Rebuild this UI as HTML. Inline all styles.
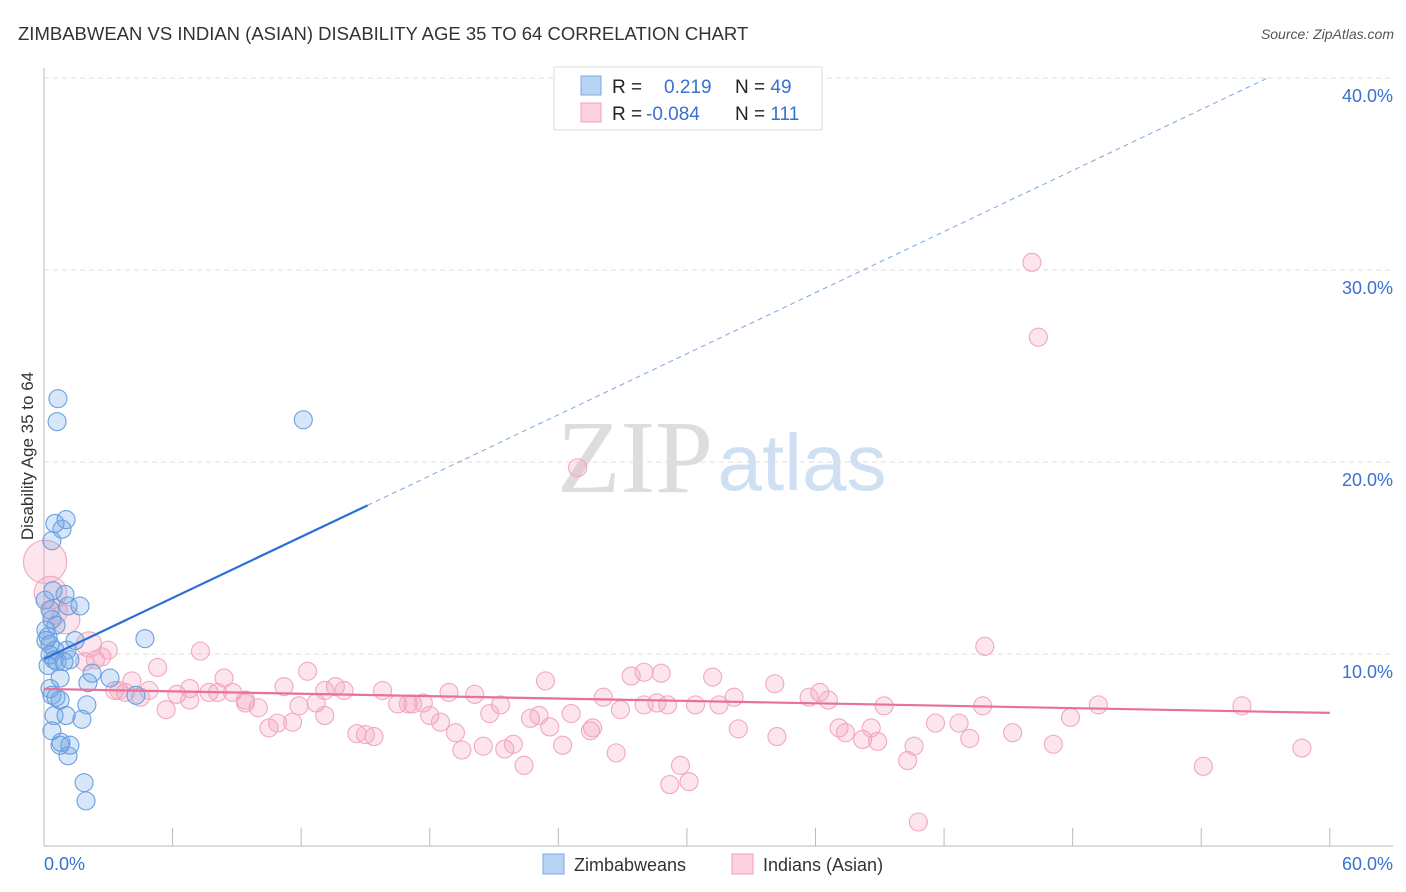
<!DOCTYPE html>
<html><head><meta charset="utf-8"><style>
body{margin:0;background:#fff;font-family:"Liberation Sans",sans-serif}
svg{display:block}
</style></head><body>
<svg id="c" width="1406" height="892">
<text x="18" y="40" font-size="18.5" fill="#333">ZIMBABWEAN VS INDIAN (ASIAN) DISABILITY AGE 35 TO 64 CORRELATION CHART</text>
<text x="1394" y="39" font-size="14" fill="#555" font-style="italic" text-anchor="end">Source: ZipAtlas.com</text>
<text x="635" y="492" font-size="104" fill="#ddd" font-family="Liberation Serif,serif" text-anchor="middle">ZIP</text>
<text x="802" y="490" font-size="80" fill="#cfe0f3" text-anchor="middle">atlas</text>
<text transform="translate(33,456) rotate(-90)" font-size="17" fill="#333" text-anchor="middle">Disability Age 35 to 64</text>
<g id="grid"></g><g id="pts"></g><g id="lines"></g>
<g>
<rect x="554" y="67" width="268" height="63" fill="#fff" stroke="#ddd"/>
<rect x="581" y="76" width="20" height="19" fill="#b8d4f5" stroke="#7aaae6"/>
<rect x="581" y="103" width="20" height="19" fill="#fcd0dc" stroke="#f0a0b8"/>
<text x="612" y="93" font-size="19" fill="#222">R = <tspan fill="#3a70d0" x="664">0.219</tspan><tspan fill="#222" x="735">N = </tspan><tspan fill="#3a70d0">49</tspan></text>
<text x="612" y="120" font-size="19" fill="#222">R = <tspan fill="#3a70d0" x="646">-0.084</tspan><tspan fill="#222" x="735">N = </tspan><tspan fill="#3a70d0">111</tspan></text>
</g>
<g>
<rect x="543" y="854" width="21" height="20" fill="#b8d4f5" stroke="#7aaae6"/>
<text x="574" y="871" font-size="18" fill="#333">Zimbabweans</text>
<rect x="732" y="854" width="21" height="20" fill="#fcd0dc" stroke="#f0a0b8"/>
<text x="763" y="871" font-size="18" fill="#333">Indians (Asian)</text>
</g>
</svg>
<script>
const blueX=[.65,.61,12.1,1.03,.51,.84,.37,.42,.98,1.68,1.12,.09,.19,.09,.28,.51,1.07,.28,.47,.61,.93,4.71,3.08,2.05,.75,.28,.37,.56,2.0,.47,1.03,1.77,.37,.79,1.21,.75,1.12,1.87,1.96,4.29,2.24,.19,.75,1.21,.28,.56,.37,1.45,.05];
const blueY=[23.3,22.1,22.2,17.0,16.8,16.5,15.9,13.3,13.1,12.5,12.5,11.25,10.9,10.7,10.5,10.2,10.2,9.95,9.7,9.6,9.6,10.8,8.75,8.5,8.75,8.2,7.85,7.75,7.35,6.8,6.8,6.6,6.0,5.4,5.25,5.25,4.7,3.3,2.35,7.85,9.0,9.4,7.6,9.7,12.3,11.5,11.8,10.7,12.8];
const pinkX=[46.1,46.4,24.9,43.9,3.0,7.3,5.3,12.3,23.4,27.4,28.0,28.8,31.2,34.1,6.8,8.4,3.3,3.8,4.5,4.9,6.2,7.7,8.1,8.8,9.4,10.0,11.2,11.9,12.7,13.6,14.0,15.8,16.5,17.0,17.2,17.7,18.9,20.1,21.3,20.8,18.0,18.5,19.2,19.5,20.5,21.5,21.9,22.4,22.7,23.1,23.6,24.2,24.6,25.5,25.6,26.1,26.7,26.9,28.0,28.6,29.1,29.7,29.2,30.1,30.4,31.5,32.2,32.4,34.2,35.7,36.2,36.6,37.1,37.4,38.2,38.6,38.9,39.2,40.3,40.6,40.8,41.6,42.7,43.2,43.8,45.2,47.1,47.9,49.2,54.1,55.9,58.7,5.7,10.5,10.9,11.6,13.1,14.6,15.0,15.4,9.4,4.1,2.4,1.9,2.7,2.1,1.0,.3,.05,.5,3.5,6.8,13.1];
const pinkY=[30.4,26.5,19.7,10.4,10.2,10.15,9.3,9.1,8.6,8.85,9.05,9.0,8.8,8.45,8.2,8.75,8.1,8.0,7.75,8.1,7.9,8.0,8.0,8.0,7.45,7.2,8.3,7.3,7.45,8.3,8.1,8.1,7.4,7.4,7.4,7.45,8.0,7.9,7.35,6.9,6.8,6.45,5.9,5.0,5.2,5.05,5.3,4.2,6.65,6.8,6.2,5.25,6.9,6.0,6.15,7.75,4.85,7.1,7.35,7.45,7.35,4.2,3.2,3.35,7.35,7.35,7.75,6.1,5.7,7.75,8.0,7.6,6.15,5.9,5.55,6.15,5.45,7.3,4.45,5.2,1.25,6.4,6.4,5.6,7.3,5.9,5.3,6.7,7.35,4.15,7.3,5.1,7.1,6.15,6.4,6.45,6.8,5.85,5.8,5.7,7.6,8.6,9.7,9.6,9.85,10.5,11.8,13.2,14.8,12.2,8.1,7.6,8.1];
const pinkW=[1,1,1,1,1,1,1,1,1,1,1,1,1,1,1,1,1,1,1,1,1,1,1,1,1,1,1,1,1,1,1,1,1,1,1,1,1,1,1,1,1,1,1,1,1,1,1,1,1,1,1,1,1,1,1,1,1,1,1,1,1,1,1,1,1,1,1,1,1,1,1,1,1,1,1,1,1,1,1,1,1,1,1,1,1,1,1,1,1,1,1,1,1,1,1,1,1,1,1,1,1,1,1,1,1,1.4,1.6,1.8,2.4,1.4,1,1,1];
const yTicks=[10,20,30,40];
const xTicks=[0,6,12,18,24,30,36,42,48,54,60];
const blueFit=[9.74,0.53,15.1,57.1];
const pinkFit=[8.18,-0.0208,60];
const X=v=>44+v*21.43, Y=v=>846-v*19.2;
const NS="http://www.w3.org/2000/svg";
function mk(t,a,p){const e=document.createElementNS(NS,t);for(const k in a)e.setAttribute(k,a[k]);p.appendChild(e);return e;}
const g=document.getElementById('grid');
let ax=mk('line',{x1:44,y1:68,x2:44,y2:846,stroke:'#bbb'},g);


let bx=mk('line',{x1:44,y1:846,x2:1393,y2:846,stroke:'#bbb'},g);


yTicks.forEach(v=>{
 const l=mk('line',{x1:44,y1:Y(v),x2:1393,y2:Y(v),stroke:'#ddd','stroke-dasharray':'5,4'},g);
 
 
 const t=mk('text',{x:1393,y:Y(v)+24,'font-size':18,fill:'#3a70d0','text-anchor':'end'},g);t.textContent=v.toFixed(1)+'%';
 
 
});
xTicks.forEach(v=>{
 const l=mk('line',{x1:X(v),y1:828,x2:X(v),y2:846,stroke:'#bbb'},g);
 
 
});
[[0,'start',44],[60,'end',1393]].forEach(([v,a,px])=>{
 const t=mk('text',{x:px,y:870,'font-size':18,fill:'#3a70d0','text-anchor':a},g);t.textContent=v.toFixed(1)+'%';
 
 
});
const p=document.getElementById('pts');
pinkX.forEach((v,i)=>{
 const c=mk('circle',{cx:X(v),cy:Y(pinkY[i]),r:9*pinkW[i],fill:'rgba(244,160,188,0.28)',stroke:'#f2a8be','stroke-width':1.1},p);
 
 
});
blueX.forEach((v,i)=>{
 const c=mk('circle',{cx:X(v),cy:Y(blueY[i]),r:9,fill:'rgba(110,165,230,0.28)',stroke:'#6a9fe0','stroke-width':1.1},p);
 
 
});
const L=document.getElementById('lines');
const bf=x=>blueFit[0]+blueFit[1]*x;
let l1=mk('line',{x1:X(0),y1:Y(bf(0)),x2:X(blueFit[2]),y2:Y(bf(blueFit[2])),stroke:'#2a6fd6','stroke-width':2.2},L);


let l2=mk('line',{x1:X(blueFit[2]),y1:Y(bf(blueFit[2])),x2:X(blueFit[3]),y2:Y(bf(blueFit[3])),stroke:'#7aa6e0','stroke-width':1,'stroke-dasharray':'5,4'},L);


let l3=mk('line',{x1:X(0),y1:Y(pinkFit[0]),x2:X(pinkFit[2]),y2:Y(pinkFit[0]+pinkFit[1]*pinkFit[2]),stroke:'#e8709a','stroke-width':2.2},L);


</script>
</body></html>
